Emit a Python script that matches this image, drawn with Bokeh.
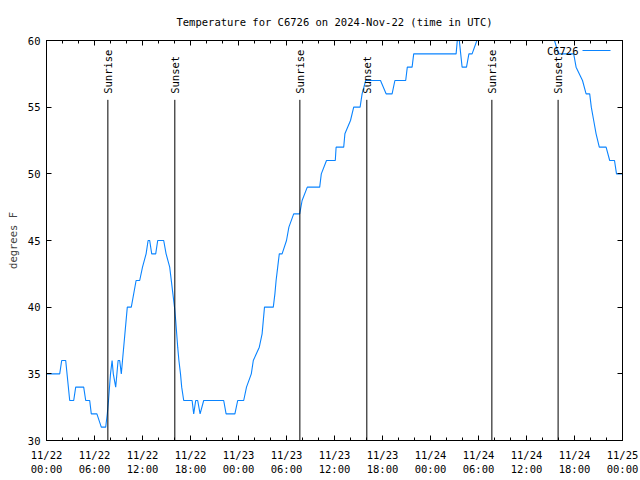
import math
from bokeh.plotting import figure
from bokeh.models import LinearAxis, FixedTicker, Range1d, ColumnDataSource
from bokeh.embed import file_html
from bokeh.resources import INLINE
from bokeh.core.properties import value

# ---------------- data ----------------
title_text = "Temperature for C6726 on 2024-Nov-22 (time in UTC)"
series_name = "C6726"
y_label = "degrees F"

# hours since 2024-11-22 00:00 UTC
hours = [0.0, 1.65, 1.9, 2.4, 2.9, 3.4, 3.65, 4.65, 4.9, 5.4, 5.6, 6.3, 6.85, 7.4,
         7.6, 7.75, 8.0, 8.2, 8.35, 8.65, 8.95, 9.15, 9.35, 9.5, 10.1, 10.6, 11.2,
         11.65, 12.0, 12.45, 12.7, 12.9, 13.15, 13.65, 13.9, 14.65, 14.95, 15.4,
         15.8, 16.0, 16.15, 16.4, 16.55, 16.75, 16.9, 17.15, 18.2, 18.4, 18.65,
         18.9, 19.2, 19.65, 22.15, 22.45, 23.55, 23.9, 24.65, 25.0, 25.6, 25.85,
         26.6, 26.95, 27.25, 28.35, 28.55, 28.7, 28.9, 29.1, 29.45, 30.0, 30.3,
         30.9, 31.65, 31.95, 32.6, 34.15, 34.35, 35.0, 36.1, 36.2, 37.15, 37.3,
         38.0, 38.4, 39.2, 39.45, 39.9, 41.75, 42.45, 43.2, 43.55, 44.9, 45.1,
         45.7, 45.9, 51.2, 51.5, 51.6, 51.95, 52.5, 52.8, 53.2, 53.8, 54.5, 56.0,
         60.0, 62.0, 63.5, 64.0, 65.9, 66.2, 67.0, 67.45, 67.9, 68.1, 68.4, 68.7,
         69.1, 69.95, 70.4, 71.0, 71.25, 72.0]
temps = [35, 35, 36, 36, 33, 33, 34, 34, 33, 33, 32, 32, 31, 31,
         32, 33, 35, 36, 35, 34, 36, 36, 35, 36, 40, 40, 42,
         42, 43, 44, 45, 45, 44, 44, 45, 45, 44, 43,
         41, 40, 39, 37, 36, 35, 34, 33, 33, 32, 33,
         33, 32, 33, 33, 32, 32, 33, 33, 34, 35, 36,
         37, 38, 40, 40, 41, 42, 43, 44, 44, 45, 46,
         47, 47, 48, 49, 49, 50, 51, 51, 52, 52, 53,
         54, 55, 55, 56, 57, 57, 56, 56, 57, 57, 58,
         58, 59, 59, 61, 60, 58, 58, 59, 59, 60, 61, 62,
         62, 61, 60, 59, 59, 58, 57, 56, 56, 55, 54, 53,
         52, 52, 51, 51, 50, 50]

event_hours = [7.67, 16.04, 31.67, 40.04, 55.67, 63.95]
event_names = ["Sunrise", "Sunset", "Sunrise", "Sunset", "Sunrise", "Sunset"]

x_ticks = [0, 6, 12, 18, 24, 30, 36, 42, 48, 54, 60, 66, 72]
x_tick_labels = ["11/22\n00:00", "11/22\n06:00", "11/22\n12:00", "11/22\n18:00",
                 "11/23\n00:00", "11/23\n06:00", "11/23\n12:00", "11/23\n18:00",
                 "11/24\n00:00", "11/24\n06:00", "11/24\n12:00", "11/24\n18:00",
                 "11/25\n00:00"]
x_minor = [0, 2, 4, 6, 8, 10, 12, 14, 16, 18, 20, 22, 24, 26, 28, 30, 32, 34, 36,
           38, 40, 42, 44, 46, 48, 50, 52, 54, 56, 58, 60, 62, 64, 66, 68, 70, 72]
y_ticks = [30, 35, 40, 45, 50, 55, 60]

# ---------------- style ----------------
FONT = "DejaVu Sans Mono"
FS = "10.5px"
LINE_COLOR = "#0a84ff"

p = figure(width=640, height=480, output_backend="svg", toolbar_location=None,
           x_range=Range1d(0, 72), y_range=Range1d(30, 60),
           min_border_left=46, min_border_right=18, min_border_top=40,
           min_border_bottom=40, title=title_text)
p.title.align = "center"
p.title.text_font = FONT
p.title.text_font_size = FS
p.title.text_font_style = "normal"
p.title.text_color = "black"
p.title.standoff = 25

p.xgrid.visible = False
p.ygrid.visible = False
p.outline_line_color = "black"
p.outline_line_width = 1
p.background_fill_color = "white"
p.border_fill_color = "white"

xt = FixedTicker(ticks=x_ticks, minor_ticks=x_minor)
yt = FixedTicker(ticks=y_ticks, minor_ticks=[])


def style_axis(ax):
    ax.axis_line_color = "black"
    ax.major_tick_line_color = "black"
    ax.minor_tick_line_color = "black"
    ax.major_tick_in = 5
    ax.major_tick_out = 0
    ax.minor_tick_in = 3
    ax.minor_tick_out = 0
    ax.major_label_text_font = FONT
    ax.major_label_text_font_size = FS
    ax.major_label_text_color = "black"


bx = p.xaxis[0]
bx.ticker = xt
bx.major_label_overrides = {t: lab for t, lab in zip(x_ticks, x_tick_labels)}
style_axis(bx)
bx.major_label_standoff = 8

ly = p.yaxis[0]
ly.ticker = yt
style_axis(ly)
ly.major_label_standoff = 6
ly.axis_label = y_label
ly.axis_label_text_font = FONT
ly.axis_label_text_font_size = FS
ly.axis_label_text_font_style = "normal"
ly.axis_label_standoff = 6

# mirrored tick marks (no labels) on top and right, gnuplot style
top = LinearAxis(ticker=xt)
style_axis(top)
top.major_label_overrides = {t: "" for t in x_ticks}
top.major_label_standoff = 0
p.add_layout(top, "above")
right = LinearAxis(ticker=yt)
style_axis(right)
right.major_label_overrides = {t: "" for t in y_ticks}
right.major_label_standoff = 0
p.add_layout(right, "right")

# temperature line
src = ColumnDataSource(dict(h=hours, t=temps))
p.line("h", "t", source=src, color=LINE_COLOR, line_width=1.1)

# sunrise / sunset markers
n = len(event_hours)
p.segment(x0=event_hours, y0=[30] * n, x1=event_hours, y1=[55.55] * n,
          color="black", line_width=1)
p.text(x=event_hours, y=[56.0] * n, text=event_names, angle=math.pi / 2,
       text_align="left", text_baseline="middle", text_font=value(FONT),
       text_font_size=FS, text_color="black")

# gnuplot-style key: label then line sample
p.line([67.0, 70.5], [59.25, 59.25], color=LINE_COLOR, line_width=1.1)
p.text(x=[66.5], y=[59.25], text=[series_name], text_align="right",
       text_baseline="middle", text_font=value(FONT), text_font_size=FS,
       text_color="black")

open("out.html", "w").write(file_html(p, INLINE))
